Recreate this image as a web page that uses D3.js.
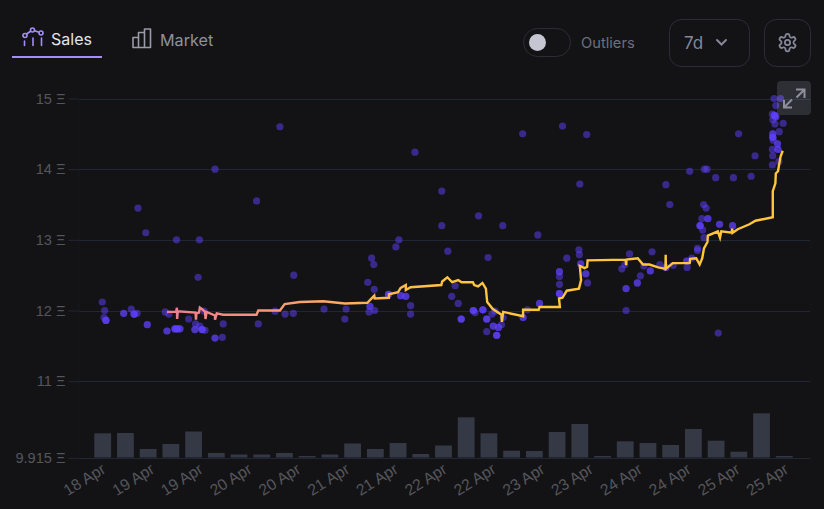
<!DOCTYPE html>
<html>
<head>
<meta charset="utf-8">
<script src="https://cdn.jsdelivr.net/npm/d3@7"></script>
<style>
  html, body { margin: 0; padding: 0; background: #131316; overflow: hidden; }
  svg { display: block; }
  .ui { font-family: Inter, "Noto Sans", sans-serif; }
  .axis text { font-family: "Liberation Sans", Arial, sans-serif; fill: #55565b; }
  .axis.price text { font-size: 14.6px; }
  .axis.date text { font-size: 15.8px; }
</style>
</head>
<body>
<svg id="chart" width="824" height="509"></svg>
<script>
// Price ticks (ETH) on the left axis
const priceTicks = [9.915, 11, 12, 13, 14, 15];

// Date ticks: hours since the start of the 7 day window, with their labels
const dateTickHours = [5.8, 17.1, 28.3, 39.6, 50.9, 62.2, 73.4, 84.7, 96, 107.3, 118.5, 129.8, 141.1, 152.4, 163.6];
const dateTickLabels = ["18 Apr", "19 Apr", "19 Apr", "20 Apr", "20 Apr", "21 Apr", "21 Apr", "22 Apr", "22 Apr", "23 Apr", "23 Apr", "24 Apr", "24 Apr", "25 Apr", "25 Apr"];

// Traded volume per 5.25 hour bucket
const volumeHours = [5.25, 10.5, 15.75, 21, 26.25, 31.5, 36.75, 42, 47.25, 52.5, 57.75, 63, 68.25, 73.5, 78.75, 84, 89.25, 94.5, 99.75, 105, 110.25, 115.5, 120.75, 126, 131.25, 136.5, 141.75, 147, 152.25, 157.5, 162.75];
const volumes = [24.2, 24.5, 8.5, 13.5, 26, 4.5, 3, 3, 4.5, 1.5, 3, 14, 8.5, 14.5, 3.5, 12, 40.2, 24.2, 6.8, 6.5, 25.5, 33.5, 1.5, 16.2, 14.5, 12.5, 28.5, 16.8, 5.8, 44.2, 1.5];

// Individual sales: [hour, price, sales at that spot]
const sales = [
  [5.15,12.12,1],[5.7,12.00,1],[5.55,11.90,1],[6.0,11.86,3],[10.1,11.96,2],[11.85,12.02,1],[13.2,11.96,1],[12.5,11.95,3],
  [15.55,11.80,2],[19.7,11.98,1],[20.55,11.95,1],[20.1,11.71,2],[21.95,11.74,3],[22.5,11.74,3],[23.1,11.74,2],[25.1,11.88,1],
  [26.7,11.81,1],[27.7,11.78,1],[26.55,11.73,2],[28.2,11.73,3],[28.9,11.72,1],[28.7,11.99,1],[33.1,11.81,1],[31.2,11.61,2],
  [32.9,11.62,1],[41.2,11.81,1],[45.1,11.99,1],[47.4,11.95,1],[49.3,11.96,1],[49.4,12.50,1],[56.4,12.02,1],[61.5,12.02,1],
  [61.2,11.88,1],[66.5,12.40,1],[68.0,12.30,1],[67.9,12.65,1],[67.4,12.74,1],[67.0,12.06,2],[66.8,11.98,1],[68.1,12.00,1],
  [71.3,12.23,3],[74.1,12.21,2],[75.3,12.20,2],[76.4,12.07,1],[76.4,11.95,1],[86.7,12.35,1],[85.9,12.20,1],[87.4,12.10,1],
  [88.1,11.88,3],[90.9,12.00,3],[91.3,11.97,1],[93.1,12.01,3],[94.0,11.88,3],[95.2,11.95,1],[95.9,11.99,1],[95.5,11.78,2],
  [96.7,11.76,2],[97.4,11.80,1],[97.8,11.90,1],[94.0,11.70,1],[96.3,11.65,3],[102.4,11.90,2],[103.4,12.01,1],[106.2,12.10,2],
  [110.8,12.55,2],[110.8,12.48,1],[110.8,12.37,1],[110.8,12.24,3],[112.5,12.74,1],[115.3,12.86,1],[115.4,12.79,1],[115.7,12.66,2],
  [116.9,12.52,2],[117.3,12.39,1],[127.0,12.80,1],[125.9,12.65,1],[125.2,12.59,1],[126.2,12.31,2],[128.8,12.39,2],[129.5,12.49,1],
  [131.8,12.56,2],[130.3,12.63,1],[132.2,12.83,1],[134.0,12.65,1],[135.4,12.61,2],[126.2,12.00,1],[135.4,13.78,1],[136.3,13.50,1],
  [137.1,12.64,1],[140.2,12.70,2],[141.4,12.74,1],[140.3,12.61,1],[142.7,12.88,1],[142.7,12.85,1],[144.2,13.03,1],[143.3,13.20,3],
  [143.9,13.14,1],[143.7,13.30,1],[145.1,13.30,2],[144.1,13.50,1],[144.7,13.45,1],[147.8,13.22,2],[150.8,13.20,2],[140.9,13.97,1],
  [144.3,14.00,1],[144.9,14.00,1],[146.9,13.88,1],[151.0,13.88,1],[155.1,13.90,1],[152.2,14.50,1],[156.0,14.19,1],[160.4,15.00,1],
  [161.9,15.00,1],[160.8,14.90,1],[160.0,14.78,1],[160.5,14.76,3],[160.8,14.74,2],[160.1,14.70,1],[160.6,14.64,1],[162.5,14.65,1],
  [161.6,14.53,1],[160.1,14.50,2],[160.1,14.45,3],[160.2,14.41,1],[161.2,14.36,2],[161.3,14.28,2],[160.0,14.28,1],[160.1,14.19,1],
  [160.0,14.06,1],[161.5,14.11,1],[13.4,13.45,1],[15.2,13.10,1],[22.3,13.00,1],[27.6,13.00,1],[27.3,12.47,1],[31.2,14.00,1],
  [40.8,13.55,1],[46.2,14.60,1],[77.4,14.24,1],[83.6,13.69,1],[83.6,13.20,1],[85.0,12.84,1],[92.1,13.34,1],[97.7,13.20,1],
  [102.3,14.50,1],[111.5,14.61,1],[117.1,14.49,1],[115.5,13.79,1],[73.7,13.00,1],[73.0,12.90,1],[147.5,11.68,1],[105.8,13.07,1],[94.3,12.75,1]
];

// Rolling average price: [hour, price]
const averagePrice = [
  [20.1,11.98],[22.2,11.98],[22.4,12.04],[22.45,11.88],[22.6,11.99],[26.7,11.97],[26.8,11.87],[26.9,11.96],[27.5,11.97],[27.7,12.04],
  [28.4,12.01],[28.9,11.98],[29.0,11.88],[29.25,11.98],[31.2,11.93],[31.2,11.87],[31.6,11.96],[33.1,11.94],[40.8,11.94],[41.2,12.00],
  [46.2,12.00],[47.3,12.09],[50.8,12.12],[56.2,12.13],[61.2,12.10],[66.4,12.11],[68.0,12.21],[68.1,12.17],[71.4,12.18],[71.4,12.23],
  [73.5,12.26],[74.1,12.32],[75.3,12.36],[75.3,12.29],[76.4,12.33],[83.5,12.36],[83.7,12.41],[84.9,12.47],[86.0,12.40],[87.4,12.43],
  [88.2,12.40],[90.8,12.40],[91.1,12.36],[92.0,12.34],[93.0,12.39],[93.8,12.31],[94.1,12.12],[95.4,12.02],[97.4,11.94],[97.5,11.84],
  [97.8,11.98],[102.4,11.92],[102.4,12.01],[106.0,12.01],[106.2,12.05],[110.9,12.05],[110.7,12.17],[111.5,12.18],[112.5,12.28],[115.3,12.31],
  [115.8,12.43],[115.5,12.63],[116.6,12.60],[117.2,12.62],[117.3,12.71],[126.1,12.72],[126.2,12.64],[126.3,12.72],[128.9,12.74],[130.1,12.65],
  [131.6,12.65],[133.6,12.61],[135.3,12.59],[135.35,12.79],[135.4,12.59],[137.0,12.67],[140.9,12.67],[141.0,12.73],[142.4,12.74],[143.2,12.65],
  [143.8,12.74],[144.2,12.88],[145.0,12.97],[145.1,13.06],[147.4,13.12],[147.9,13.03],[148.2,13.12],[150.6,13.10],[150.7,13.16],[150.8,13.10],
  [152.0,13.15],[154.7,13.22],[156.1,13.27],[160.1,13.32],[160.1,13.69],[160.7,13.80],[160.8,13.94],[161.3,13.97],[161.9,14.18],[162.4,14.26]
];

const svg = d3.select("#chart");

const x = d3.scaleLinear().domain([0, 168.7]).range([80, 810]);
const y = d3.scaleLinear().domain([12, 15]).range([310.5, 98.5]);
const yVolume = d3.scaleLinear().domain([0, 50]).range([457.5, 407.5]);

// Left axis and horizontal grid
const yAxis = d3.axisLeft(y)
  .tickValues(priceTicks)
  .tickSize(10)
  .tickPadding(3)
  .tickFormat(v => v + " Ξ");
const yG = svg.append("g").attr("class", "axis price").attr("transform", "translate(78.5,0)").call(yAxis);
yG.select(".domain").attr("stroke", "#19191d").attr("d", `M0.5,${y(15)}V${y(9.915)}`);
yG.selectAll(".tick line").attr("stroke", "#232733");

svg.append("g").selectAll("line").data(priceTicks).join("line")
  .attr("x1", x(0) - 1).attr("x2", x.range()[1])
  .attr("y1", d => Math.round(y(d)) + 0.5).attr("y2", d => Math.round(y(d)) + 0.5)
  .attr("stroke", "#1f2636");

// Bottom axis with slanted date labels
const xAxis = d3.axisBottom(x)
  .tickValues(dateTickHours)
  .tickSize(0)
  .tickFormat((d, i) => dateTickLabels[i]);
const xG = svg.append("g").attr("class", "axis date").attr("transform", "translate(0,458)").call(xAxis);
xG.select(".domain").remove();
xG.selectAll("text")
  .attr("text-anchor", "end")
  .attr("dy", 0).attr("y", 0)
  .attr("transform", "translate(1,14) rotate(-32)");

// Volume bars
svg.append("g").selectAll("rect").data(volumes).join("rect")
  .attr("x", (d, i) => x(volumeHours[i]) - 8.4)
  .attr("width", 16.8)
  .attr("y", d => yVolume(d))
  .attr("height", d => yVolume(0) - yVolume(d))
  .attr("fill", "#353945");

// Sales dots; repeated sales stack up and read brighter
const dots = sales.flatMap(([h, p, n]) => d3.range(n).map(() => [h, p]));
svg.append("g").selectAll("circle").data(dots).join("circle")
  .attr("cx", d => x(d[0]))
  .attr("cy", d => y(d[1]))
  .attr("r", 3.6)
  .attr("fill", "#6040ff")
  .attr("fill-opacity", 0.5);

// Average line, pink on the left fading into amber
const gradient = svg.append("defs").append("linearGradient")
  .attr("id", "averageStroke")
  .attr("gradientUnits", "userSpaceOnUse")
  .attr("x1", x(20)).attr("x2", x(85)).attr("y1", 0).attr("y2", 0);
gradient.append("stop").attr("offset", "0%").attr("stop-color", "#ef7a95");
gradient.append("stop").attr("offset", "55%").attr("stop-color", "#f9a868");
gradient.append("stop").attr("offset", "100%").attr("stop-color", "#ffc53d");

svg.append("path")
  .attr("d", d3.line().x(d => x(d[0])).y(d => y(d[1]))(averagePrice))
  .attr("fill", "none")
  .attr("stroke", "url(#averageStroke)")
  .attr("stroke-width", 2.4)
  .attr("stroke-linejoin", "miter")
  .attr("stroke-miterlimit", 5);

// Tabs
const tabs = svg.append("g").attr("class", "ui");
const salesIcon = tabs.append("g").attr("fill", "none").attr("stroke", "#a48cff").attr("stroke-width", 1.6).attr("stroke-linecap", "round");
salesIcon.append("path").attr("d", "M25 35 L32.5 30 L41 33");
salesIcon.selectAll("circle").data([[25, 35.5], [32.5, 30], [41, 33]]).join("circle")
  .attr("cx", d => d[0]).attr("cy", d => d[1]).attr("r", 2).attr("fill", "#131316");
salesIcon.append("path").attr("d", "M24.5 41V45.5 M33 38V45.5 M41.5 38V45.5");
tabs.append("text").attr("x", 51).attr("y", 45).attr("font-size", 16).attr("fill", "#e4e4e9").text("Sales");
tabs.append("rect").attr("x", 12).attr("y", 56).attr("width", 90).attr("height", 2).attr("fill", "#a48cff");
tabs.append("path")
  .attr("d", "M133 37.5h5.5v10h-5.5z M138.5 47.5v-15h6v15z M144.5 47.5v-18.5h6v18.5z")
  .attr("fill", "none").attr("stroke", "#9a9aa8").attr("stroke-width", 1.6).attr("stroke-linejoin", "round");
tabs.append("text").attr("x", 160).attr("y", 45.5).attr("font-size", 16.2).attr("fill", "#8f909c").text("Market");

// Outliers switch
const controls = svg.append("g").attr("class", "ui");
controls.append("rect").attr("x", 523.5).attr("y", 28.5).attr("width", 47).attr("height", 28).attr("rx", 14)
  .attr("fill", "none").attr("stroke", "#2b2c38");
controls.append("circle").attr("cx", 537.5).attr("cy", 42.5).attr("r", 8.5).attr("fill", "#c6c6d2");
controls.append("text").attr("x", 581).attr("y", 48).attr("font-size", 14.7).attr("fill", "#6c6f7c").text("Outliers");

// Range picker
controls.append("rect").attr("x", 669.5).attr("y", 19.5).attr("width", 80).attr("height", 47).attr("rx", 12)
  .attr("fill", "none").attr("stroke", "#2b2c38");
controls.append("text").attr("x", 684).attr("y", 49).attr("font-size", 17).attr("fill", "#85879a").text("7d");
controls.append("path").attr("d", "M717 40 L721.5 44.5 L726 40").attr("fill", "none").attr("stroke", "#85879a").attr("stroke-width", 2).attr("stroke-linecap", "round");

// Settings button
controls.append("rect").attr("x", 764.5).attr("y", 19.5).attr("width", 46).attr("height", 47).attr("rx", 12)
  .attr("fill", "none").attr("stroke", "#2b2c38");
const gear = controls.append("g").attr("transform", "translate(777,32) scale(0.875)")
  .attr("fill", "none").attr("stroke", "#85879a").attr("stroke-width", 2);
gear.append("path").attr("d", "M12.22 2h-.44a2 2 0 0 0-2 2v.18a2 2 0 0 1-1 1.73l-.43.25a2 2 0 0 1-2 0l-.15-.08a2 2 0 0 0-2.73.73l-.22.38a2 2 0 0 0 .73 2.73l.15.1a2 2 0 0 1 1 1.72v.51a2 2 0 0 1-1 1.74l-.15.09a2 2 0 0 0-.73 2.73l.22.38a2 2 0 0 0 2.73.73l.15-.08a2 2 0 0 1 2 0l.43.25a2 2 0 0 1 1 1.73V20a2 2 0 0 0 2 2h.44a2 2 0 0 0 2-2v-.18a2 2 0 0 1 1-1.73l.43-.25a2 2 0 0 1 2 0l.15.08a2 2 0 0 0 2.73-.73l.22-.39a2 2 0 0 0-.73-2.73l-.15-.08a2 2 0 0 1-1-1.74v-.5a2 2 0 0 1 1-1.74l.15-.09a2 2 0 0 0 .73-2.73l-.22-.38a2 2 0 0 0-2.73-.73l-.15.08a2 2 0 0 1-2 0l-.43-.25a2 2 0 0 1-1-1.73V4a2 2 0 0 0-2-2z");
gear.append("circle").attr("cx", 12).attr("cy", 12).attr("r", 3);

// Expand button over the plot corner
controls.append("rect").attr("x", 777).attr("y", 81).attr("width", 34).attr("height", 34).attr("rx", 4)
  .attr("fill", "#d8dcf0").attr("fill-opacity", 0.14);
controls.append("path")
  .attr("d", "M796 89.5h8.5v8.5 M804 90l-7.5 7.5 M784 100v7.5h8 M784.5 107l7.5-7.5")
  .attr("fill", "none").attr("stroke", "#8d8f9c").attr("stroke-width", 2);
</script>
</body>
</html>
